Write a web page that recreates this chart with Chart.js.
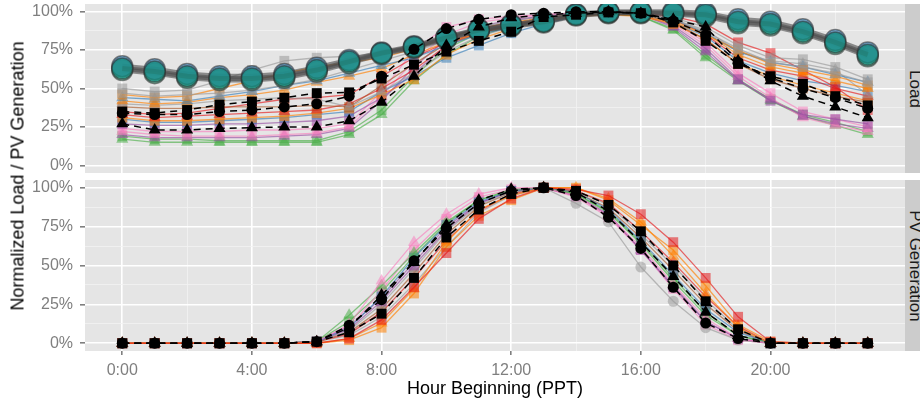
<!DOCTYPE html>
<html>
<head>
<meta charset="utf-8">
<script src="https://cdn.jsdelivr.net/npm/chart.js@4"></script>
<style>
  body { margin: 0; background: #fff; width: 920px; height: 405px; overflow: hidden; position: relative; font-family: "Liberation Sans", Arial, sans-serif; }
  .pane { position: absolute; left: 0; }
  .strip { position: absolute; left: 905px; width: 22px; background: #CCCCCC; overflow: hidden; }
  .strip span { position: absolute; left: 50%; top: 50%; transform: translate(-50%, -50%) rotate(90deg); white-space: nowrap; font-size: 17px; color: #1A1A1A; margin-left: -1px; }
  #ytitle { position: absolute; left: 18px; top: 176px; transform: translate(-50%, -50%) rotate(-90deg); white-space: nowrap; font-size: 18px; color: #000; }
  #xtitle { position: absolute; left: 495px; top: 388px; transform: translate(-50%, -50%); white-space: nowrap; font-size: 18px; color: #000; }
</style>
</head>
<body>
<div class="pane" style="top:0"><canvas id="loadChart" width="905" height="176"></canvas></div>
<div class="pane" style="top:176px"><canvas id="pvChart" width="905" height="229"></canvas></div>
<div class="strip" style="top:4px;height:169px"><span>Load</span></div>
<div class="strip" style="top:180px;height:171px"><span>PV Generation</span></div>
<div id="ytitle">Normalized Load / PV Generation</div>
<div id="xtitle">Hour Beginning (PPT)</div>
<script>
const hours = [0,1,2,3,4,5,6,7,8,9,10,11,12,13,14,15,16,17,18,19,20,21,22,23];
const xTickLabels = ["0:00","4:00","8:00","12:00","16:00","20:00"];
const yTickLabels = ["0%","25%","50%","75%","100%"];

// Load panel, individual sites
const loadGreySq   = [0.50,0.48,0.49,0.55,0.62,0.68,0.70,0.71,0.73,0.77,0.84,0.90,0.94,0.97,0.99,1.00,0.99,0.96,0.90,0.78,0.70,0.69,0.64,0.56];
const loadGreySq2  = [0.47,0.45,0.46,0.47,0.49,0.52,0.56,0.62,0.68,0.74,0.81,0.87,0.92,0.96,0.98,0.99,0.98,0.95,0.87,0.76,0.67,0.64,0.60,0.54];
const loadOrangeSq = [0.46,0.44,0.45,0.50,0.55,0.60,0.64,0.67,0.70,0.76,0.83,0.89,0.93,0.96,0.98,0.99,0.97,0.93,0.85,0.75,0.66,0.62,0.58,0.52];
const loadBlueTri  = [0.44,0.43,0.42,0.45,0.48,0.52,0.55,0.60,0.65,0.70,0.78,0.85,0.90,0.95,0.98,0.99,0.98,0.95,0.86,0.74,0.67,0.64,0.59,0.54];
const loadOrangeTri= [0.42,0.40,0.41,0.44,0.46,0.49,0.54,0.58,0.63,0.72,0.80,0.86,0.91,0.95,0.97,0.99,0.98,0.94,0.86,0.72,0.64,0.60,0.55,0.50];
const loadGreyTri  = [0.40,0.39,0.40,0.42,0.43,0.44,0.43,0.38,0.48,0.60,0.74,0.84,0.90,0.95,0.98,0.99,0.98,0.95,0.88,0.74,0.68,0.66,0.62,0.46];
const loadBrownSq  = [0.38,0.37,0.37,0.38,0.38,0.38,0.39,0.38,0.52,0.66,0.79,0.86,0.92,0.96,0.98,0.99,0.99,0.93,0.82,0.66,0.56,0.50,0.45,0.41];
const loadRedSq    = [0.35,0.33,0.34,0.37,0.40,0.43,0.44,0.46,0.58,0.70,0.80,0.87,0.92,0.96,0.98,1.00,0.99,0.97,0.92,0.80,0.73,0.62,0.51,0.36];
const loadRedTri   = [0.33,0.31,0.32,0.33,0.34,0.35,0.36,0.40,0.50,0.62,0.78,0.86,0.91,0.95,0.98,0.99,0.99,0.95,0.85,0.70,0.62,0.58,0.50,0.45];
const loadOrangeSq2= [0.31,0.29,0.29,0.30,0.31,0.32,0.34,0.37,0.46,0.56,0.72,0.82,0.89,0.94,0.97,0.98,0.97,0.92,0.82,0.66,0.58,0.52,0.47,0.42];
const loadBlueSq   = [0.30,0.28,0.28,0.29,0.30,0.31,0.33,0.35,0.48,0.58,0.70,0.78,0.86,0.92,0.97,0.99,0.98,0.93,0.84,0.68,0.60,0.55,0.52,0.48];
const loadPurpleSq = [0.27,0.26,0.26,0.27,0.27,0.28,0.29,0.32,0.44,0.60,0.78,0.88,0.94,0.97,0.99,1.00,0.98,0.91,0.76,0.56,0.42,0.33,0.30,0.27];
const loadPinkSq   = [0.24,0.22,0.22,0.22,0.23,0.23,0.24,0.27,0.48,0.75,0.90,0.95,0.97,0.98,0.99,1.00,0.99,0.93,0.80,0.60,0.47,0.35,0.30,0.25];
const loadPinkTri  = [0.22,0.20,0.19,0.19,0.19,0.20,0.21,0.25,0.45,0.68,0.85,0.93,0.96,0.98,0.99,1.00,0.99,0.92,0.78,0.58,0.44,0.31,0.26,0.22];
const loadPurpleTri= [0.20,0.18,0.18,0.18,0.18,0.19,0.20,0.24,0.42,0.64,0.82,0.90,0.95,0.97,0.99,1.00,0.98,0.90,0.74,0.55,0.43,0.32,0.27,0.24];
const loadGreenSq  = [0.19,0.17,0.17,0.16,0.16,0.16,0.16,0.22,0.36,0.58,0.76,0.86,0.92,0.96,0.98,0.99,0.97,0.89,0.72,0.56,0.43,0.33,0.28,0.22];
const loadGreenTri = [0.17,0.15,0.15,0.15,0.15,0.15,0.15,0.20,0.33,0.55,0.72,0.84,0.91,0.96,0.98,0.99,0.97,0.88,0.70,0.55,0.42,0.32,0.26,0.20];

// Load panel, averages (black dashed)
const loadAvgTri = [0.27,0.23,0.23,0.24,0.245,0.25,0.25,0.29,0.41,0.58,0.78,0.90,0.96,0.98,0.99,1.00,0.99,0.95,0.90,0.68,0.55,0.45,0.38,0.31];
const loadAvgSq  = [0.35,0.34,0.36,0.395,0.415,0.44,0.47,0.475,0.565,0.655,0.74,0.81,0.87,0.965,0.98,0.995,0.99,0.93,0.81,0.66,0.58,0.53,0.45,0.39];
const loadAvgCir = [0.34,0.33,0.33,0.35,0.36,0.38,0.40,0.45,0.58,0.755,0.89,0.95,0.98,0.99,1.00,1.00,0.99,0.94,0.85,0.67,0.57,0.50,0.44,0.37];

// Load panel, system load (big circles)
const loadSysTeal  = [0.63,0.61,0.58,0.565,0.565,0.58,0.62,0.675,0.73,0.77,0.83,0.88,0.91,0.935,0.98,0.995,0.995,0.99,0.98,0.935,0.92,0.87,0.80,0.72];
const loadSysBlue  = [0.645,0.625,0.595,0.58,0.58,0.595,0.635,0.685,0.735,0.775,0.835,0.885,0.915,0.94,0.985,1.00,1.00,1.00,0.99,0.95,0.935,0.885,0.815,0.735];
const loadSysGreen = [0.62,0.60,0.57,0.555,0.555,0.57,0.61,0.665,0.725,0.765,0.825,0.875,0.905,0.93,0.975,0.99,0.99,0.985,0.97,0.925,0.91,0.86,0.79,0.71];

// PV panel, individual sites
const pvRedSq    = [0,0,0,0,0,0,0,0.03,0.15,0.36,0.58,0.80,0.93,1.00,0.99,0.95,0.83,0.65,0.42,0.17,0.01,0,0,0];
const pvOrangeSq = [0,0,0,0,0,0,0,0.02,0.10,0.32,0.62,0.82,0.92,1.00,1.00,0.92,0.76,0.60,0.37,0.12,0.01,0,0,0];
const pvOrangeTri= [0,0,0,0,0,0,0,0.03,0.13,0.35,0.65,0.86,0.95,1.00,1.00,0.93,0.78,0.56,0.32,0.10,0,0,0,0];
const pvPinkTri  = [0,0,0,0,0,0,0.01,0.12,0.40,0.65,0.83,0.96,1.00,1.00,0.95,0.82,0.62,0.38,0.16,0.03,0,0,0,0];
const pvGreenTri = [0,0,0,0,0,0,0.01,0.18,0.37,0.58,0.78,0.92,0.99,1.00,0.96,0.84,0.64,0.40,0.18,0.05,0,0,0,0];
const pvBlueSq   = [0,0,0,0,0,0,0.01,0.10,0.30,0.55,0.76,0.91,0.98,1.00,0.97,0.86,0.66,0.44,0.22,0.07,0,0,0,0];
const pvPurpleSq = [0,0,0,0,0,0,0.01,0.09,0.27,0.50,0.73,0.90,0.98,1.00,0.95,0.83,0.60,0.36,0.14,0.03,0,0,0,0];
const pvGreyCir  = [0,0,0,0,0,0,0.01,0.08,0.25,0.48,0.72,0.89,0.97,1.00,0.90,0.78,0.49,0.27,0.10,0.02,0,0,0,0];
const pvBrownSq  = [0,0,0,0,0,0,0.01,0.07,0.22,0.45,0.70,0.88,0.97,1.00,0.97,0.87,0.68,0.47,0.25,0.08,0,0,0,0];
const pvPinkSq   = [0,0,0,0,0,0,0.01,0.10,0.34,0.60,0.80,0.94,0.99,1.00,0.94,0.81,0.60,0.35,0.12,0.02,0,0,0,0];
const pvRedTri   = [0,0,0,0,0,0,0.01,0.06,0.20,0.42,0.66,0.85,0.96,1.00,0.98,0.90,0.72,0.52,0.30,0.11,0,0,0,0];
const pvGreySq   = [0,0,0,0,0,0,0.01,0.05,0.17,0.38,0.62,0.84,0.95,1.00,0.98,0.89,0.70,0.50,0.28,0.09,0,0,0,0];
const pvGreenSq  = [0,0,0,0,0,0,0.01,0.14,0.33,0.56,0.77,0.92,0.98,1.00,0.96,0.85,0.65,0.42,0.20,0.05,0,0,0,0];
const pvPurpleTri= [0,0,0,0,0,0,0.01,0.11,0.29,0.52,0.75,0.90,0.98,1.00,0.95,0.82,0.60,0.37,0.14,0.03,0,0,0,0];

// PV panel, averages (black dashed)
const pvAvgTri = [0,0,0,0,0,0,0.01,0.10,0.31,0.52,0.76,0.92,0.99,1.00,0.97,0.85,0.65,0.43,0.20,0.05,0,0,0,0];
const pvAvgCir = [0,0,0,0,0,0,0.01,0.115,0.28,0.53,0.74,0.90,0.98,1.00,0.95,0.81,0.61,0.36,0.13,0.03,0,0,0,0];
const pvAvgSq  = [0,0,0,0,0,0,0.01,0.07,0.19,0.42,0.68,0.86,0.96,1.00,0.98,0.89,0.72,0.50,0.27,0.09,0,0,0,0];

const colors = {
  red: "228,26,28", blue: "55,126,184", green: "77,175,74", purple: "152,78,163",
  orange: "255,127,0", brown: "166,86,40", pink: "247,129,191", grey: "153,153,153"
};

const loadSites = [
  [loadGreySq, "grey", "rect"], [loadGreySq2, "grey", "rect"], [loadOrangeSq, "orange", "rect"],
  [loadBlueTri, "blue", "triangle"], [loadOrangeTri, "orange", "triangle"], [loadGreyTri, "grey", "triangle"],
  [loadBrownSq, "brown", "rect"], [loadRedSq, "red", "rect"], [loadRedTri, "red", "triangle"],
  [loadOrangeSq2, "orange", "rect"], [loadBlueSq, "blue", "rect"],
  [loadPurpleSq, "purple", "rect"], [loadPinkSq, "pink", "rect"], [loadPinkTri, "pink", "triangle"],
  [loadPurpleTri, "purple", "triangle"], [loadGreenSq, "green", "rect"], [loadGreenTri, "green", "triangle"]
];
const loadAvgs = [[loadAvgTri, "triangle"], [loadAvgSq, "rect"], [loadAvgCir, "circle"]];
// first one ends up on top
const loadSystem = [[loadSysTeal, "20,140,125"], [loadSysBlue, "80,150,200"], [loadSysGreen, "95,190,155"]];

const pvSites = [
  [pvRedSq, "red", "rect"], [pvOrangeSq, "orange", "rect"], [pvOrangeTri, "orange", "triangle"],
  [pvPinkTri, "pink", "triangle"], [pvGreenTri, "green", "triangle"], [pvBlueSq, "blue", "rect"],
  [pvPurpleSq, "purple", "rect"], [pvGreyCir, "grey", "circle"], [pvBrownSq, "brown", "rect"],
  [pvPinkSq, "pink", "rect"], [pvRedTri, "red", "triangle"], [pvGreySq, "grey", "rect"],
  [pvGreenSq, "green", "rect"], [pvPurpleTri, "purple", "triangle"]
];
const pvAvgs = [[pvAvgTri, "triangle"], [pvAvgSq, "rect"], [pvAvgCir, "circle"]];

function toPoints(arr) {
  return hours.map((h, i) => ({ x: h, y: arr[i] }));
}
function radiusFor(shape) {
  return shape === "circle" ? 5.5 : 7;
}

function buildDatasets(sites, avgs, system) {
  const ds = [];
  avgs.forEach(([arr, shape]) => {
    ds.push({
      data: toPoints(arr),
      borderColor: "#000",
      borderWidth: 1.5,
      borderDash: [7, 5],
      pointStyle: shape,
      pointRadius: radiusFor(shape),
      pointBackgroundColor: "#000",
      pointBorderWidth: 0,
      order: 1
    });
  });
  system.forEach(([arr, rgb]) => {
    ds.push({
      data: toPoints(arr),
      borderColor: "rgba(75,75,75,0.6)",
      borderWidth: 5,
      pointStyle: "circle",
      pointRadius: 10.5,
      pointBackgroundColor: "rgba(" + rgb + ",0.75)",
      pointBorderColor: "rgba(40,40,40,0.55)",
      pointBorderWidth: 1.5,
      order: 2
    });
  });
  sites.forEach(([arr, col, shape]) => {
    ds.push({
      data: toPoints(arr),
      borderColor: "rgba(" + colors[col] + ",0.65)",
      borderWidth: 1.3,
      pointStyle: shape,
      pointRadius: radiusFor(shape),
      pointBackgroundColor: "rgba(" + colors[col] + ",0.55)",
      pointBorderWidth: 0,
      order: 3
    });
  });
  return ds;
}

const panelBg = {
  id: "panelBg",
  beforeDraw(chart) {
    const a = chart.chartArea, ctx = chart.ctx;
    ctx.save();
    ctx.fillStyle = "#E5E5E5";
    ctx.fillRect(a.left, a.top, a.right - a.left, a.bottom - a.top);
    ctx.restore();
  }
};

function isMajorY(v) { return Math.abs(v * 4 - Math.round(v * 4)) < 1e-6; }

function makeOptions(showX, bottomPad, xHeight) {
  return {
    responsive: false,
    animation: false,
    devicePixelRatio: 1,
    layout: { autoPadding: false, padding: { top: 4, bottom: bottomPad, left: 0, right: 0 } },
    plugins: { legend: { display: false }, tooltip: { enabled: false } },
    scales: {
      x: {
        type: "linear", min: -1.15, max: 24.15,
        afterBuildTicks: s => { s.ticks = [0,2,4,6,8,10,12,14,16,18,20,22].map(v => ({ value: v })); },
        afterFit: s => { s.height = xHeight; s.paddingLeft = 0; s.paddingRight = 0; },
        border: { display: false },
        grid: {
          color: c => (c.tick && c.tick.value % 4 === 0) ? "#FFFFFF" : "#F2F2F2",
          lineWidth: c => (c.tick && c.tick.value % 4 === 0) ? 1.6 : 0.8,
          tickColor: c => (showX && c.tick && c.tick.value % 4 === 0) ? "#7F7F7F" : "rgba(0,0,0,0)",
          tickLength: 4,
          drawTicks: showX
        },
        ticks: {
          display: showX,
          autoSkip: false,
          maxRotation: 0,
          padding: 6,
          color: "#7F7F7F",
          font: { family: "Liberation Sans", size: 16 },
          callback: v => (v % 4 === 0 ? xTickLabels[v / 4] : "")
        }
      },
      y: {
        type: "linear", min: -0.05, max: 1.05,
        afterBuildTicks: s => { s.ticks = [0,0.125,0.25,0.375,0.5,0.625,0.75,0.875,1].map(v => ({ value: v })); },
        afterFit: s => { s.width = 85; s.paddingTop = 0; s.paddingBottom = 0; },
        border: { display: false },
        grid: {
          color: c => (c.tick && isMajorY(c.tick.value)) ? "#FFFFFF" : "#F2F2F2",
          lineWidth: c => (c.tick && isMajorY(c.tick.value)) ? 1.6 : 0.8,
          tickColor: c => (c.tick && isMajorY(c.tick.value)) ? "#7F7F7F" : "rgba(0,0,0,0)",
          tickLength: 5
        },
        ticks: {
          autoSkip: false,
          padding: 7,
          color: "#7F7F7F",
          font: { family: "Liberation Sans", size: 16 },
          callback: v => (isMajorY(v) ? yTickLabels[Math.round(v * 4)] : "")
        }
      }
    }
  };
}

new Chart(document.getElementById("loadChart"), {
  type: "line",
  data: { datasets: buildDatasets(loadSites, loadAvgs, loadSystem) },
  options: makeOptions(false, 3, 0),
  plugins: [panelBg]
});

new Chart(document.getElementById("pvChart"), {
  type: "line",
  data: { datasets: buildDatasets(pvSites, pvAvgs, []) },
  options: makeOptions(true, 0, 54),
  plugins: [panelBg]
});
</script>
</body>
</html>
